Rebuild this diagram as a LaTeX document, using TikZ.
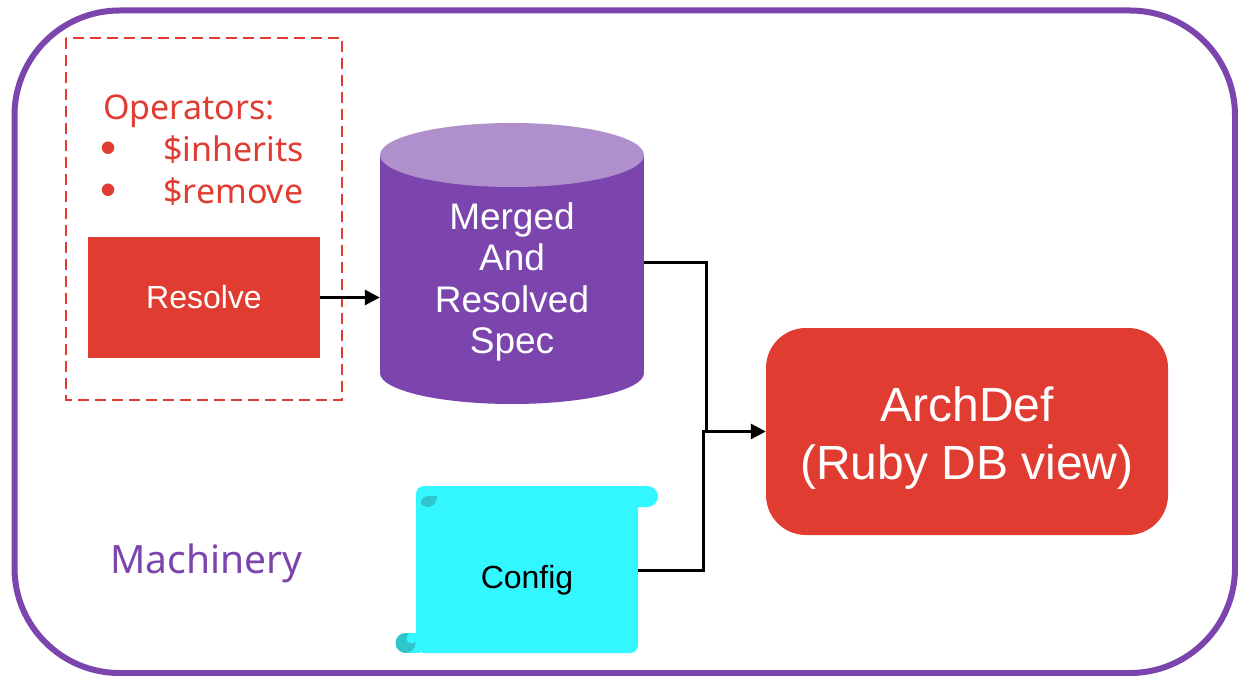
\documentclass[tikz,border=0pt]{standalone}
\usepackage{fontspec}
\setmainfont{Liberation Sans}
\newfontfamily\aptos{Noto Sans}
\usetikzlibrary{arrows.meta}
\definecolor{frameP}{HTML}{7B45AD}
\definecolor{lightP}{HTML}{B08FCD}
\definecolor{redR}{HTML}{E03C32}
\definecolor{cyanC}{HTML}{33F7FF}
\definecolor{cyanD}{HTML}{2EC5CC}
\tikzset{
  conn/.style={line width=3pt, draw=black},
  arr/.style={conn, -{Triangle[length=15pt,width=15pt]}},
  optext/.style={text=redR, font=\aptos\fontsize{34}{40}\selectfont, inner sep=0pt, anchor=base west},
  bullettext/.style={text=redR, font=\fontsize{46}{50}\selectfont, inner sep=0pt, anchor=base west},
}
\begin{document}
\begin{tikzpicture}[x=1pt,y=-1pt]
\useasboundingbox (0,0) rectangle (1238,676);
% outer frame
\draw[frameP, line width=6pt, rounded corners=105pt] (14.5,10.5) rectangle (1235,673);
% dashed operator box
\draw[redR, line width=2.7pt, dash pattern=on 11pt off 6pt] (66,38) rectangle (342,400);
\node[optext] (opt) at (103,120) {Operators:};
\node[bullettext] (b1) at (100,164) {•};
\node[optext] (inh) at (163,162) {\$inherits};
\node[bullettext] (b2) at (100,206) {•};
\node[optext] (rem) at (163,204) {\$remove};
% resolve
\node[fill=redR, minimum width=232pt, minimum height=121pt, inner sep=0pt, text=white,
      font=\fontsize{32}{38}\selectfont] (resolve) at (204,297.5) {Resolve};
% cylinder
\fill[frameP] (380,155) rectangle (644,373);
\fill[frameP] (512,373) ellipse [x radius=132, y radius=31];
\fill[lightP] (512,155) ellipse [x radius=132, y radius=32];
\node[minimum width=264pt, inner sep=0pt, text=white, align=center,
      font=\fontsize{37}{41.3}\selectfont] (spec) at (512,282) {Merged\\And\\Resolved\\Spec};
% archdef
\node[fill=redR, rounded corners=40pt, minimum width=402pt, minimum height=207pt, inner sep=0pt] (arch) at (967,431.5) {};
\node[text=white, align=center, inner sep=0pt, font=\fontsize{48}{58}\selectfont] (archtext) at (967,438) {ArchDef\\(Ruby DB view)};
% config scroll
\fill[cyanC, rounded corners=10.5pt] (416,486) rectangle (658,507);
\fill[cyanC, rounded corners=8pt] (416,486) rectangle (638,653);
\fill[cyanC] (405.5,633) rectangle (420,653);
\fill[cyanD] (405.5,643) circle (10);
\fill[cyanC] (411.5,638.5) circle (5);
\fill[cyanD] (437,496) -- (429,496) .. controls (424,496) and (421,499) .. (421,502)
   .. controls (421,505) and (424,507) .. (428,507) .. controls (433,507) and (437,502) .. (437,496) -- cycle;
\node[minimum width=222pt, minimum height=146pt, inner sep=0pt, text=black,
      font=\fontsize{32}{38}\selectfont] (config) at (527,580) {Config};
% machinery label
\node[text=frameP, font=\aptos\fontsize{39}{46}\selectfont, inner sep=0pt, anchor=base west] (mach) at (110,573) {Machinery};
% connectors
\coordinate (j1) at (706,262);
\coordinate (j2) at (703,570);
\draw[arr] (resolve.east) -- (resolve.east -| spec.west);
\draw[conn] (j1 -| spec.east) -- (j1) -- (j1 |- arch.west);
\draw[arr] (j2 -| config.east) -- (j2) |- (arch.west);
\end{tikzpicture}
\end{document}
